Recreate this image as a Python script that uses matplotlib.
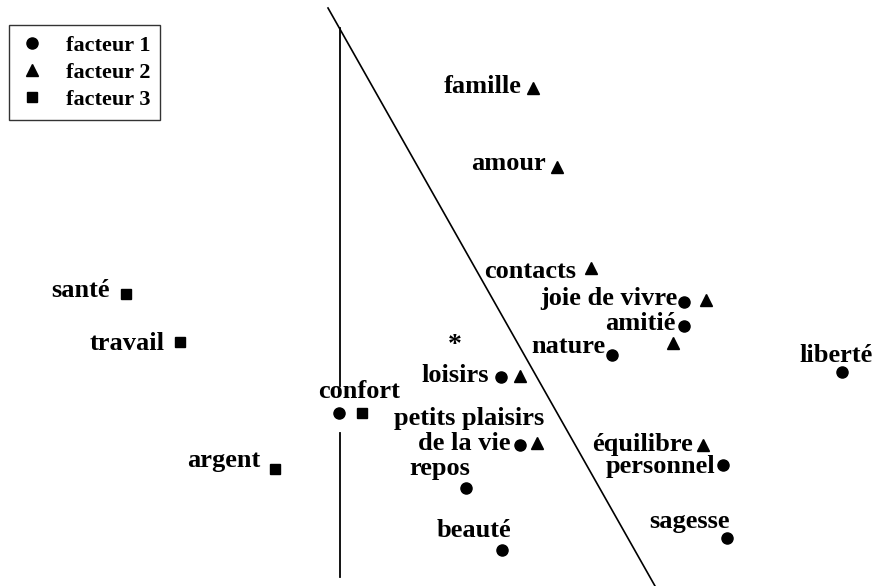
import matplotlib.pyplot as plt
from matplotlib.lines import Line2D

plt.rcParams['font.family'] = ['Liberation Serif', 'DejaVu Serif']

# Positions (repère du plan factoriel, en pixels de la figure)

# facteur 1 (ronds)
f1_noms = ['joie de vivre', 'amitié', 'nature', 'liberté', 'loisirs', 'confort',
           'petits plaisirs', 'personnel', 'repos', 'beauté', 'sagesse']
f1_x = [684, 684, 612, 842, 501, 339, 520, 723, 466, 502, 727]
f1_y = [302, 326, 355, 372, 377, 413, 445, 465, 488, 550, 538]

# facteur 2 (triangles)
f2_noms = ['famille', 'amour', 'contacts', 'joie de vivre', 'amitié', 'loisirs',
           'petits plaisirs', 'équilibre']
f2_x = [533, 557, 591, 706, 673, 520, 537, 703]
f2_y = [88, 167, 268, 300, 343, 376, 443, 445]

# facteur 3 (carrés)
f3_noms = ['santé', 'travail', 'confort', 'argent']
f3_x = [126, 180, 362, 275]
f3_y = [294, 342, 413, 469]

# centre (étoile)
centre_x = [455]
centre_y = [345]

# séparateurs
vert_x = [340, 340]
vert_haut = [28, 386]
vert_bas = [433, 577]
diag_x = [328, 655]
diag_y = [8, 586]

fig = plt.figure(figsize=(8.75, 5.86), dpi=100)
ax = fig.add_axes([0, 0, 1, 1])
ax.set_xlim(0, 875)
ax.set_ylim(586, 0)
ax.axis('off')

ax.plot(vert_x, vert_haut, color='black', linewidth=1.3)
ax.plot(vert_x, vert_bas, color='black', linewidth=1.3)
ax.plot(diag_x, diag_y, color='black', linewidth=1.2)

ax.plot(f1_x, f1_y, 'o', color='black', markersize=8, linestyle='none')
ax.plot(f2_x, f2_y, '^', color='black', markersize=9, linestyle='none')
ax.plot(f3_x, f3_y, 's', color='black', markersize=6.5, linestyle='none')
ax.text(centre_x[0], centre_y[0], '*', fontsize=20, fontweight='bold',
        ha='center', va='center')

f1 = dict(zip(f1_noms, zip(f1_x, f1_y)))
f2 = dict(zip(f2_noms, zip(f2_x, f2_y)))
f3 = dict(zip(f3_noms, zip(f3_x, f3_y)))

# (texte, point de référence, décalage en pixels, alignement)
etiquettes = [
    ('famille', f2['famille'], -11, -5, 'right'),
    ('amour', f2['amour'], -11, -3, 'right'),
    ('contacts', f2['contacts'], -15, -10, 'right'),
    ('joie de vivre', f1['joie de vivre'], -7, -3, 'right'),
    ('amitié', f1['amitié'], -9, -4, 'right'),
    ('nature', f1['nature'], -7, 2, 'right'),
    ('liberté', f1['liberté'], -6, 10, 'center'),
    ('loisirs', f1['loisirs'], -12, -5, 'right'),
    ('confort', f1['confort'], 20, 15, 'center'),
    ('petits plaisirs', f1['petits plaisirs'], -51, 20, 'center'),
    ('de la vie', f1['petits plaisirs'], -10, -5, 'right'),
    ('repos', f1['repos'], -26, 13, 'center'),
    ('beauté', f1['beauté'], -28, 13, 'center'),
    ('équilibre', f2['équilibre'], -10, -6, 'right'),
    ('personnel', f1['personnel'], -8, -8, 'right'),
    ('sagesse', f1['sagesse'], -37, 10, 'center'),
    ('santé', f3['santé'], -16, -3, 'right'),
    ('travail', f3['travail'], -15, -8, 'right'),
    ('argent', f3['argent'], -15, 2, 'right'),
]

for texte, (x, y), dx, dy, ha in etiquettes:
    ax.annotate(texte, xy=(x, y), xytext=(dx, dy), textcoords='offset pixels',
                ha=ha, va='baseline', fontsize=19, fontweight='bold')

poignees = [
    Line2D([], [], marker='o', color='black', linestyle='none', markersize=8),
    Line2D([], [], marker='^', color='black', linestyle='none', markersize=9),
    Line2D([], [], marker='s', color='black', linestyle='none', markersize=6.5),
]
leg = fig.legend(poignees, ['facteur 1', 'facteur 2', 'facteur 3'],
                 loc='upper left', bbox_to_anchor=(9 / 875, 1 - 25 / 586),
                 frameon=True, fancybox=False, fontsize=16, borderpad=0.45,
                 labelspacing=0.3, handletextpad=0.9, handlelength=1.2,
                 borderaxespad=0, prop={'weight': 'bold', 'size': 16})
leg.get_frame().set_edgecolor('black')
leg.get_frame().set_linewidth(1.0)

fig.savefig('out.png', dpi=100)
